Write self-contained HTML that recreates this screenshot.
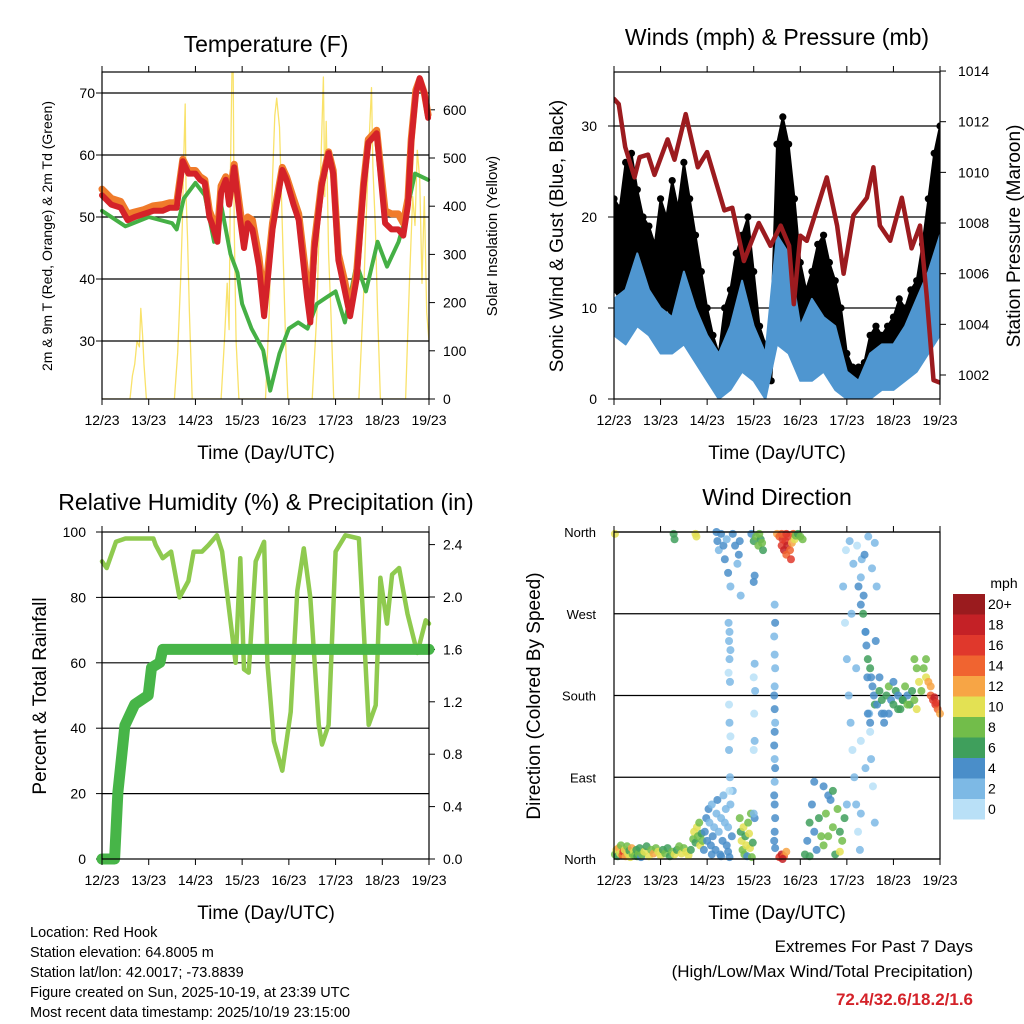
<!DOCTYPE html>
<html><head><meta charset="utf-8"><style>
body{margin:0;background:#fff;}
svg{display:block;font-family:"Liberation Sans",sans-serif;}
</style></head><body>
<svg id="c" width="1024" height="1024" viewBox="0 0 1024 1024" xmlns="http://www.w3.org/2000/svg">
<defs>
<clipPath id="clipT"><rect x="102" y="72" width="327" height="327"/></clipPath>
<clipPath id="clipW"><rect x="614" y="72" width="326" height="327"/></clipPath>
</defs>
</svg>
<script>
// ---------- data ----------
const days=["12/23","13/23","14/23","15/23","16/23","17/23","18/23","19/23"];
const tTime=[0,0.2,0.4,0.55,0.7,0.9,1.1,1.3,1.45,1.6,1.73,1.85,2.0,2.1,2.2,2.3,2.35,2.47,2.55,2.65,2.72,2.83,2.95,3.04,3.12,3.22,3.36,3.47,3.55,3.65,3.86,3.95,4.1,4.21,4.39,4.46,4.55,4.7,4.85,4.95,5.06,5.2,5.31,5.45,5.6,5.7,5.88,5.95,6.06,6.2,6.34,6.45,6.55,6.62,6.72,6.8,6.9,6.98];
const temp2m=[53.5,52,51.5,49.5,50,50.5,51,51,51.5,51.5,59,57,57,56,55.5,50,49,46,54,56,52,58,50,45,49,48,42,34,40,48,57.6,56,52,49.5,37,33,45,55,60.3,57,43,38,34,40,55,62,63.5,58,49,48,48,47,52,62,70,72.4,70,66];
const temp9m=[54.5,53,52.5,50.5,50.8,51.2,51.8,52,52.3,52.3,59.3,57.5,57.5,56.5,56,51,50,47.5,55,56.5,53,58.5,51.5,46.5,50,49.5,43.5,36,41.5,49,58,56.5,53,50.5,39,35,46,55.5,60.5,57.5,44,39.5,35,41,55.5,62.5,64,59,51,50.5,50.5,49,53,62.5,70.5,72.2,70,66.5];
const tdTime=[0,0.5,1.0,1.5,1.6,1.75,2.0,2.2,2.4,2.55,2.75,2.9,3.0,3.2,3.45,3.6,3.8,4.0,4.2,4.4,4.6,4.8,5.0,5.2,5.45,5.65,5.9,6.1,6.35,6.5,6.7,6.98];
const dewpt=[51,48.5,50,49,48,53,55.5,53.5,46,52,44,41,36,32,28.5,22,28,32,33,32,36,37,38,33,42.5,38,46,42,46,50,57,56];
const solTime=[0,0.6,0.65,0.7,0.75,0.8,0.83,0.87,0.9,0.95,1.55,1.62,1.68,1.72,1.75,1.78,1.8,1.83,1.87,1.93,2.55,2.62,2.68,2.72,2.75,2.8,2.83,2.87,2.93,3.5,3.58,3.65,3.7,3.74,3.8,3.86,3.93,3.98,4.5,4.6,4.65,4.7,4.74,4.77,4.8,4.85,4.9,4.96,5.5,5.6,5.65,5.72,5.77,5.8,5.85,5.9,5.96,6.5,6.58,6.65,6.7,6.75,6.8,6.85,6.9,6.95,7.0];
const solar=[0,0,48,72,120,108,188,132,72,0,0,96,240,360,504,612,420,336,180,0,0,120,240,144,480,800,360,120,0,0,180,456,588,624,564,360,120,0,0,180,360,540,668,420,576,300,180,0,0,216,360,540,646,480,360,180,0,0,240,420,360,516,456,240,420,180,120];
const presTime=[0,0.1,0.24,0.44,0.55,0.73,0.87,1.15,1.3,1.54,1.8,2.0,2.37,2.54,2.79,3.11,3.36,3.58,3.76,3.86,4.0,4.14,4.57,4.79,4.93,5.14,5.43,5.57,5.71,5.93,6.18,6.39,6.57,6.71,6.86,7.0];
const pressure=[1012.9,1012.7,1011.0,1009.8,1010.6,1010.7,1009.9,1011.3,1010.5,1012.3,1010.2,1010.8,1008.5,1008.6,1006.5,1008.0,1007.1,1007.9,1007.1,1004.8,1007.5,1007.3,1009.8,1007.9,1006.0,1008.3,1009.0,1010.2,1007.9,1007.3,1009.0,1007.0,1007.9,1005.2,1001.8,1001.7];
const windTime=[0,0.25,0.5,0.75,1,1.25,1.5,1.75,2,2.25,2.5,2.75,3,3.25,3.5,3.75,4,4.25,4.5,4.75,5,5.25,5.5,5.75,6,6.25,6.5,6.75,7];
const windLow=[7,6,8,7,5,5,6,4,2,0,1,3,2,0,6,5,2,2,3,1,0,0,0,1,1,2,3,5,7];
const windHigh=[11,12,16,12,10,9,14,10,7,5,8,13,8,5,18,16,8,11,9,8,3,2,5,6,6,8,11,14,18];
const gustHigh=[22,21,26,27,23,20,19,17,22,20,24,21,26,22,18,14,10,7,5,10,12,16,18,20,14,8,6,8,28,31,28,22,15,12,14,17,18,15,13,10,5,3.5,3.5,4,7,8,7,8,9,11,10,12,13,17,22,27,30];
const gustLow=[12,11,12,14,12,10,11,10,9,10,9,11,10,9,7,5,3,2,1.5,2,3,4,5,5,4,2,2,2,12,14,12,9,6,3,4,6,7,6,4,3,2,1.5,1.5,1.5,2,3,3,4,4,5,5,6,7,8,11,15,16];
const gustTime=gustHigh.map((v,i)=>i*0.125);
const rhTime=[0,0.1,0.3,0.5,1.1,1.15,1.3,1.48,1.66,1.85,1.96,2.14,2.28,2.46,2.57,2.68,2.86,2.96,3.04,3.14,3.29,3.47,3.54,3.68,3.86,4.04,4.18,4.32,4.46,4.64,4.71,4.85,5.0,5.21,5.5,5.6,5.71,5.86,5.96,6.1,6.21,6.36,6.54,6.75,6.93,7.0];
const rh=[91,89,97,98,98,96,92,94,80,85,94,94,96,99,94,81,60,92,58,57,91,97,60,36,27,45,82,95,80,41,35,41,94,99,98,71,41,47,86,72,87,89,75,63,73,72];
const rainTime=[0,0.27,0.34,0.49,0.7,0.99,1.06,1.24,1.3,7.0];
const rain=[0,0,0.51,1.02,1.18,1.25,1.46,1.5,1.6,1.6];
// wind direction observations: [day, direction deg, speed mph]
const dirEarlyCalm=[[0.02,5,8],[0.05,10,10],[0.08,3,6],[0.1,12,12],[0.13,6,9],[0.15,15,7],[0.18,4,14],[0.2,8,16],[0.23,10,10],[0.25,3,12],[0.28,14,8],[0.3,6,10],[0.33,9,6],[0.35,2,9],[0.38,12,11],[0.4,5,7],[0.43,8,10],[0.45,4,8],[0.48,10,6],[0.5,3,5],[0.53,6,8],[0.55,12,6],[0.58,2,4],[0.6,5,7],[0.65,8,9],[0.7,14,6],[0.75,3,10],[0.8,10,8],[0.85,6,11],[0.9,12,7],[0.95,8,9],[1.0,4,10],[1.05,10,6],[1.1,6,8],[1.15,12,6],[1.2,3,5],[1.25,8,7],[1.3,5,9],[1.35,10,6],[1.4,14,8],[1.45,6,10],[1.5,12,7],[1.55,8,9],[1.6,4,10],[1.65,10,6],[1.7,22,8],[1.72,30,10],[1.75,18,6],[1.78,35,9],[1.8,25,8],[1.83,40,7],[1.85,15,10],[1.88,28,6],[1.9,20,8],[1.93,10,4],[1.28,358,6],[1.3,352,6],[1.75,358,10],[1.77,355,9],[0.02,358,10]];
const dirDay2Low=[[1.95,30,4],[1.98,45,4],[2.0,20,3],[2.03,55,4],[2.05,40,2],[2.08,15,3],[2.1,60,2],[2.12,25,4],[2.15,35,2],[2.18,10,3],[2.2,50,2],[2.22,65,3],[2.25,30,2],[2.28,5,4],[2.3,45,2],[2.33,20,3],[2.35,70,2],[2.38,40,1],[2.4,55,2],[2.42,15,3],[2.45,35,2],[2.48,2,4],[2.5,60,2],[2.53,25,3],[2.55,75,2],[2.1,5,4],[2.3,3,4],[2.45,8,4]];
const dirDay2High=[[2.2,360,3],[2.22,350,4],[2.25,340,2],[2.3,358,4],[2.35,345,3],[2.38,330,3],[2.42,352,2],[2.45,315,4],[2.5,300,2],[2.55,358,4],[2.6,345,3],[2.65,325,2],[2.7,350,4],[2.72,290,2],[2.68,335,4],[2.46,260,2],[2.48,250,2],[2.47,240,1],[2.5,230,2],[2.48,220,1],[2.46,205,0],[2.49,195,1],[2.47,170,0],[2.48,150,1],[2.5,135,0],[2.47,120,1],[2.49,90,2],[2.48,75,0]];
const dirDay3=[[2.7,45,8],[2.72,30,6],[2.74,20,10],[2.76,10,7],[2.78,35,9],[2.8,5,8],[2.82,25,6],[2.84,15,10],[2.86,3,4],[2.88,40,8],[2.9,28,9],[2.92,12,10],[2.94,50,7],[2.96,2,8],[2.98,18,6],[2.95,358,4],[3.0,350,6],[3.05,355,8],[3.1,345,7],[3.15,352,5],[3.2,340,6],[3.12,358,8],[3.18,348,7],[3.0,305,3],[3.02,312,3],[3.02,215,1],[3.0,200,0],[3.03,185,1],[3.01,160,0],[3.02,130,1],[3.0,120,0],[3.02,45,4],[3.0,50,2]];
const dirDay3Gusty=[[3.5,358,12],[3.55,355,14],[3.6,345,16],[3.62,352,15],[3.65,340,18],[3.68,350,16],[3.7,335,14],[3.72,345,18],[3.75,355,16],[3.78,340,14],[3.8,330,16],[3.82,348,12],[3.85,358,14],[3.88,352,10],[3.9,356,8],[3.95,358,6],[4.0,355,7],[4.05,352,8],[3.6,358,14],[3.7,358,16],[3.45,280,2],[3.46,260,3],[3.44,245,2],[3.45,225,1],[3.46,210,2],[3.45,190,1],[3.44,180,3],[3.45,165,3],[3.46,150,2],[3.45,140,3],[3.44,125,3],[3.45,110,2],[3.46,100,3],[3.45,85,2],[3.44,70,3],[3.45,60,3],[3.46,45,4],[3.45,30,4],[3.44,20,3],[3.46,12,4],[3.55,2,16],[3.6,5,18],[3.65,3,14],[3.7,8,12],[3.62,0,18]];
const dirDay4=[[4.1,5,6],[4.15,20,4],[4.2,40,5],[4.25,60,4],[4.3,30,3],[4.35,10,4],[4.4,45,6],[4.45,25,8],[4.5,15,7],[4.55,50,8],[4.6,70,3],[4.65,65,4],[4.7,35,7],[4.75,5,6],[4.8,55,8],[4.85,30,6],[4.9,20,8],[4.95,45,6],[4.5,80,4],[4.3,85,4],[4.7,75,6],[4.2,3,6],[4.85,8,10],[4.6,25,8]];
const dirDay5=[[4.92,300,1],[4.96,260,0],[5.0,220,1],[5.04,180,2],[5.08,150,1],[5.12,120,0],[5.16,90,2],[5.2,60,1],[5.24,30,0],[5.28,10,1],[5.32,330,2],[5.36,290,3],[5.4,250,2],[5.44,200,3],[5.48,160,1],[5.52,110,2],[5.56,80,0],[5.6,40,1],[5.64,300,2],[4.98,340,0],[5.06,350,1],[5.14,325,2],[5.22,345,0],[5.3,310,1],[5.38,335,3],[5.46,355,2],[5.54,320,1],[5.6,348,2],[5.1,270,1],[5.2,210,2],[5.3,130,0],[5.4,100,1],[5.5,140,0],[5.0,60,2],[5.3,50,1],[5.25,300,4],[5.3,280,4],[5.35,270,5],[5.4,250,3],[5.42,235,4],[5.45,220,6],[5.5,210,5],[5.52,200,4],[5.55,190,3],[5.58,180,4],[5.6,170,5],[5.45,160,4],[5.5,150,3],[5.62,240,4]];
const dirDay6=[[5.65,170,4],[5.7,185,5],[5.75,175,6],[5.8,160,4],[5.85,180,5],[5.9,190,7],[5.95,175,4],[6.0,170,6],[6.05,185,5],[6.1,180,4],[6.15,165,6],[6.2,175,5],[6.25,190,7],[6.3,180,4],[6.35,170,6],[6.4,185,5],[6.45,175,8],[6.5,165,9],[6.55,195,10],[6.6,185,8],[5.8,150,3],[5.9,160,3],[6.0,195,4],[6.1,165,6],[6.2,175,5],[6.3,170,7],[6.5,210,8],[6.45,220,8],[5.7,200,4],[5.75,160,4],[6.65,210,8],[6.7,200,10],[6.75,195,12],[6.8,180,14],[6.85,175,16],[6.9,170,15],[6.95,165,14],[7.0,160,12],[6.7,220,8],[6.8,190,11],[6.88,178,18],[6.92,172,16]];
const cbLabels=["20+","18","16","14","12","10","8","6","4","2","0"];
const cbColors=["#9a1b1e","#c42126","#e0382c","#f06430","#f7a545","#e3e153","#72bd4a","#3f9f5c","#4a8ec9","#7db9e5","#b9e0f7"];

// ---------- helpers ----------
const S=document.getElementById('c');
const NS="http://www.w3.org/2000/svg";
function mk(tag,at,name,parent){const e=document.createElementNS(NS,tag);for(const k in at)e.setAttribute(k,at[k]);


(parent||S).appendChild(e);return e;}
function txt(x,y,s,size,anchor,name,extra){const e=mk('text',Object.assign({x:x,y:y,'font-size':size,'text-anchor':anchor||'middle',fill:'#000'},extra||{}),name);e.textContent=s;return e;}
function vtxt(x,y,s,size,name){return txt(x,y,s,size,'middle',name,{transform:'rotate(-90 '+x+' '+y+')'});}
function line(x1,y1,x2,y2,w,name,col){return mk('line',{x1:x1,y1:y1,x2:x2,y2:y2,stroke:col||'#000','stroke-width':w},name);}
function path(xs,ys,fx,fy,col,w,name,clip){let d='';for(let i=0;i<xs.length;i++)d+=(i?'L':'M')+fx(xs[i]).toFixed(1)+' '+fy(ys[i]).toFixed(1);
const a={d:d,fill:'none',stroke:col,'stroke-width':w,'stroke-linejoin':'round','stroke-linecap':'round'};if(clip)a['clip-path']='url(#'+clip+')';
return mk('path',a,name);}
function band(xs,lo,hi,fx,fy,col,name){let d='';xs.forEach((t,i)=>d+=(i?'L':'M')+fx(t).toFixed(1)+' '+fy(hi[i]).toFixed(1));
for(let i=xs.length-1;i>=0;i--)d+='L'+fx(xs[i]).toFixed(1)+' '+fy(lo[i]).toFixed(1);
return mk('path',{d:d+'Z',fill:col,stroke:col,'stroke-width':2,'stroke-linejoin':'round','clip-path':'url(#clipW)'},name);}
function spdColor(s){let i=Math.min(10,Math.round(s/2));return cbColors[10-i];}
function xAxis(X,y0,y1,name){days.forEach((d,i)=>{line(X(i),y1,X(i),y1+6,1,name+'-tick');line(X(i),y0,X(i),y0-6,1,name+'-top-tick');txt(X(i),y1+26,d,14,'middle',name+'-label');});}

// ---------- Temperature panel ----------
const TX=t=>102+t*327/7, TY=v=>341-(v-30)*6.2, SY=v=>399-v*0.482;
path(solTime,solar,TX,SY,'#f9e26a',1.3,'solar-line','clipT');
[30,40,50,60,70].forEach(v=>{line(102,TY(v),429,TY(v),1.2,'temp-gridline');txt(95,TY(v)+5,v,14,'end','temp-y-tick');line(96,TY(v),102,TY(v),1,'temp-y-tickmark');});
[0,100,200,300,400,500,600].forEach(v=>{txt(443,SY(v)+5,v,14,'start','solar-y-tick');line(429,SY(v),435,SY(v),1,'solar-tickmark');});
path(tdTime,dewpt,TX,TY,'#45b045',4,'dewpoint-line');
path(tTime,temp9m,TX,TY,'#f07b2b',7,'temp-9m-line');
path(tTime,temp2m,TX,TY,'#d42229',6,'temp-2m-line');
mk('rect',{x:102,y:72,width:327,height:327,fill:'none',stroke:'#000','stroke-width':1.2},'temp-plot-frame');
xAxis(TX,72,399,'temp-x');
txt(266,52,'Temperature (F)',23,'middle','temp-title');
txt(266,459,'Time (Day/UTC)',19,'middle','temp-x-title');
vtxt(52,236,'2m & 9m T (Red, Orange) & 2m Td (Green)',14,'temp-y-title');
vtxt(497,236,'Solar Insolation (Yellow)',15,'solar-y-title');

// ---------- Wind panel ----------
const WX=t=>614+t*326/7, WY=v=>399-v*9.1, PY=p=>375-(p-1002)*25.33;
[10,20,30].forEach(v=>line(614,WY(v),940,WY(v),1.2,'wind-gridline'));
[0,10,20,30].forEach(v=>{txt(597,WY(v)+5,v,14,'end','wind-y-tick');line(608,WY(v),614,WY(v),1,'wind-tickmark');});
[1002,1004,1006,1008,1010,1012,1014].forEach(v=>{txt(958,PY(v)+5,v,14,'start','pressure-y-tick');line(940,PY(v),946,PY(v),1,'pressure-tickmark');});
band(gustTime,gustLow,gustHigh,WX,WY,'#000','gust-band');
gustTime.forEach((t,i)=>{[gustHigh[i],gustLow[i]].forEach(v=>{const c=mk('circle',{cx:WX(t),cy:WY(v),r:3.6,fill:'#000','clip-path':'url(#clipW)'},'gust-point');});});
band(windTime,windLow,windHigh,WX,WY,'#4f96d0','sonic-wind-band');
path(presTime,pressure,WX,PY,'#9c1b1f',4.5,'pressure-line','clipW');
mk('rect',{x:614,y:72,width:326,height:327,fill:'none',stroke:'#000','stroke-width':1.2},'wind-plot-frame');
xAxis(WX,72,399,'wind-x');
txt(777,45,'Winds (mph) & Pressure (mb)',23,'middle','wind-title');
txt(777,459,'Time (Day/UTC)',19,'middle','wind-x-title');
vtxt(563,236,'Sonic Wind & Gust (Blue, Black)',19,'wind-y-title');
vtxt(1020,236,'Station Pressure (Maroon)',19,'pressure-y-title');

// ---------- RH panel ----------
const RX=t=>102+t*327/7, RY=v=>859-v*3.27, PRY=v=>859-v*131;
[20,40,60,80].forEach(v=>line(102,RY(v),429,RY(v),1.2,'rh-gridline'));
[0,20,40,60,80,100].forEach(v=>{txt(86,RY(v)+5,v,14,'end','rh-y-tick');line(96,RY(v),102,RY(v),1,'rh-tickmark');});
[0,0.4,0.8,1.2,1.6,2.0,2.4].forEach(v=>{txt(443,PRY(v)+5,v.toFixed(1),14,'start','precip-y-tick');line(429,PRY(v),435,PRY(v),1,'precip-tickmark');});
path(rhTime,rh,RX,RY,'#8fca4f',4.5,'rh-line');
path(rainTime,rain,RX,PRY,'#47b548',11,'precip-line');
mk('rect',{x:102,y:532,width:327,height:327,fill:'none',stroke:'#000','stroke-width':1.2},'rh-plot-frame');
xAxis(RX,532,859,'rh-x');
txt(266,510,'Relative Humidity (%) & Precipitation (in)',23,'middle','rh-title');
txt(266,919,'Time (Day/UTC)',19,'middle','rh-x-title');
vtxt(46,696,'Percent & Total Rainfall',19,'rh-y-title');

// ---------- Wind direction panel ----------
const DX=t=>614+t*326/7, DY=d=>859-d*327/360;
const dirNames=["North","East","South","West","North"];
dirNames.forEach((n,i)=>{line(614,DY(i*90),940,DY(i*90),1.2,'dir-gridline');txt(596,DY(i*90)+5,n,13,'end','dir-y-tick');});
[dirEarlyCalm,dirDay2Low,dirDay2High,dirDay3,dirDay3Gusty,dirDay4,dirDay5,dirDay6].forEach(g=>g.forEach(p=>{
const c=mk('circle',{cx:DX(p[0]),cy:DY(p[1]),r:4,fill:spdColor(p[2]),'fill-opacity':0.85},'wind-dir-point');}));
mk('rect',{x:614,y:532,width:326,height:327,fill:'none',stroke:'#000','stroke-width':1.2},'dir-plot-frame');
xAxis(DX,532,859,'dir-x');
txt(777,505,'Wind Direction',23,'middle','dir-title');
txt(777,919,'Time (Day/UTC)',19,'middle','dir-x-title');
vtxt(540,696,'Direction (Colored By Speed)',19,'dir-y-title');
// colorbar
txt(1004,588,'mph',14,'middle','colorbar-unit');
cbColors.forEach((c,i)=>{mk('rect',{x:953,y:594+i*20.5,width:32,height:20.5,fill:c},'colorbar-box');txt(988,609+i*20.5,cbLabels[i],14,'start','colorbar-label');});

// ---------- footer ----------
["Location: Red Hook","Station elevation: 64.8005 m","Station lat/lon: 42.0017; -73.8839","Figure created on Sun, 2025-10-19, at 23:39 UTC","Most recent data timestamp: 2025/10/19 23:15:00"].forEach((s,i)=>txt(30,937+i*20,s,14.5,'start','station-info-line'));
txt(973,952,'Extremes For Past 7 Days',17,'end','extremes-title');
txt(973,977,'(High/Low/Max Wind/Total Precipitation)',17,'end','extremes-subtitle');
txt(973,1005,'72.4/32.6/18.2/1.6',17,'end','extremes-values',{fill:'#d42229','font-weight':'bold'});
</script>
</body></html>
